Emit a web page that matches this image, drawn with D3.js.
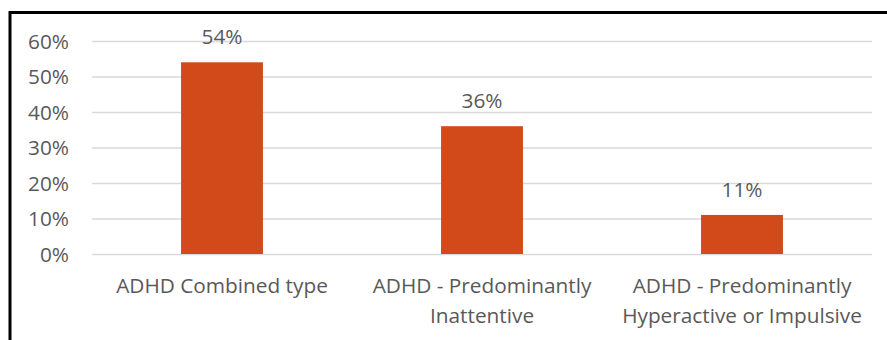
<!DOCTYPE html>
<html>
<head>
<meta charset="utf-8">
<script src="https://cdn.jsdelivr.net/npm/d3@7/dist/d3.min.js"></script>
<style>
  html, body { margin: 0; padding: 0; background: #fff; }
  svg { display: block; }
  text { font-family: "Open Sans", sans-serif; fill: #595959; }
</style>
</head>
<body>
<script>
// ADHD subtype shares
const categories = [
  ["ADHD Combined type"],
  ["ADHD - Predominantly", "Inattentive"],
  ["ADHD - Predominantly", "Hyperactive or Impulsive"]
];
const shares = [54, 36, 11];
const tickValues = [0, 10, 20, 30, 40, 50, 60];

const W = 887, H = 340;
const margin = { left: 92, right: 15, top: 41, bottom: 86 };
const fontSize = "20.8px";

const svg = d3.select("body").append("svg")
  .attr("width", W).attr("height", H);

// frame: heavy black rule along the top and left edges
svg.append("path")
  .attr("d", `M10,${H} V12.5 H${W}`)
  .attr("fill", "none")
  .attr("stroke", "#000")
  .attr("stroke-width", 3);

const x = d3.scaleBand()
  .domain(d3.range(categories.length))
  .range([margin.left, W - margin.right])
  .paddingInner(0.685)
  .paddingOuter(0.3425);

const y = d3.scaleLinear()
  .domain([0, 60])
  .range([H - margin.bottom, margin.top]);

// horizontal gridlines
const yAxis = d3.axisLeft(y)
  .tickValues(tickValues)
  .tickFormat(d => d + "%")
  .tickSize(-(W - margin.right - margin.left))
  .tickPadding(23);

const gy = svg.append("g")
  .attr("transform", `translate(${margin.left},0)`)
  .call(yAxis);
gy.select(".domain").remove();
gy.selectAll(".tick line")
  .attr("stroke", "#d9d9d9")
  .attr("stroke-width", 1.5);
gy.selectAll(".tick text")
  .attr("fill", "#595959")
  .style("font-size", fontSize)
  .attr("dy", "0.35em");

// bars
svg.append("g").selectAll("rect")
  .data(shares)
  .join("rect")
  .attr("x", (d, i) => x(i))
  .attr("width", x.bandwidth())
  .attr("y", d => y(d))
  .attr("height", d => y(0) - y(d))
  .attr("fill", "#D24A19");

// value labels above bars
svg.append("g").selectAll("text")
  .data(shares)
  .join("text")
  .attr("x", (d, i) => x(i) + x.bandwidth() / 2)
  .attr("y", d => y(d) - 18)
  .attr("text-anchor", "middle")
  .style("font-size", fontSize)
  .text(d => d + "%");

// category labels
const xAxis = d3.axisBottom(x).tickSize(0).tickFormat("");
const gx = svg.append("g")
  .attr("transform", `translate(0,${y(0)})`)
  .call(xAxis);
gx.select(".domain").remove();
gx.selectAll(".tick").each(function (i) {
  const t = d3.select(this).append("text")
    .attr("text-anchor", "middle")
    .attr("fill", "#595959")
    .style("font-size", fontSize);
  categories[i].forEach((line, k) => {
    t.append("tspan").attr("x", 0).attr("y", 39 + k * 30).text(line);
  });
});
</script>
</body>
</html>
